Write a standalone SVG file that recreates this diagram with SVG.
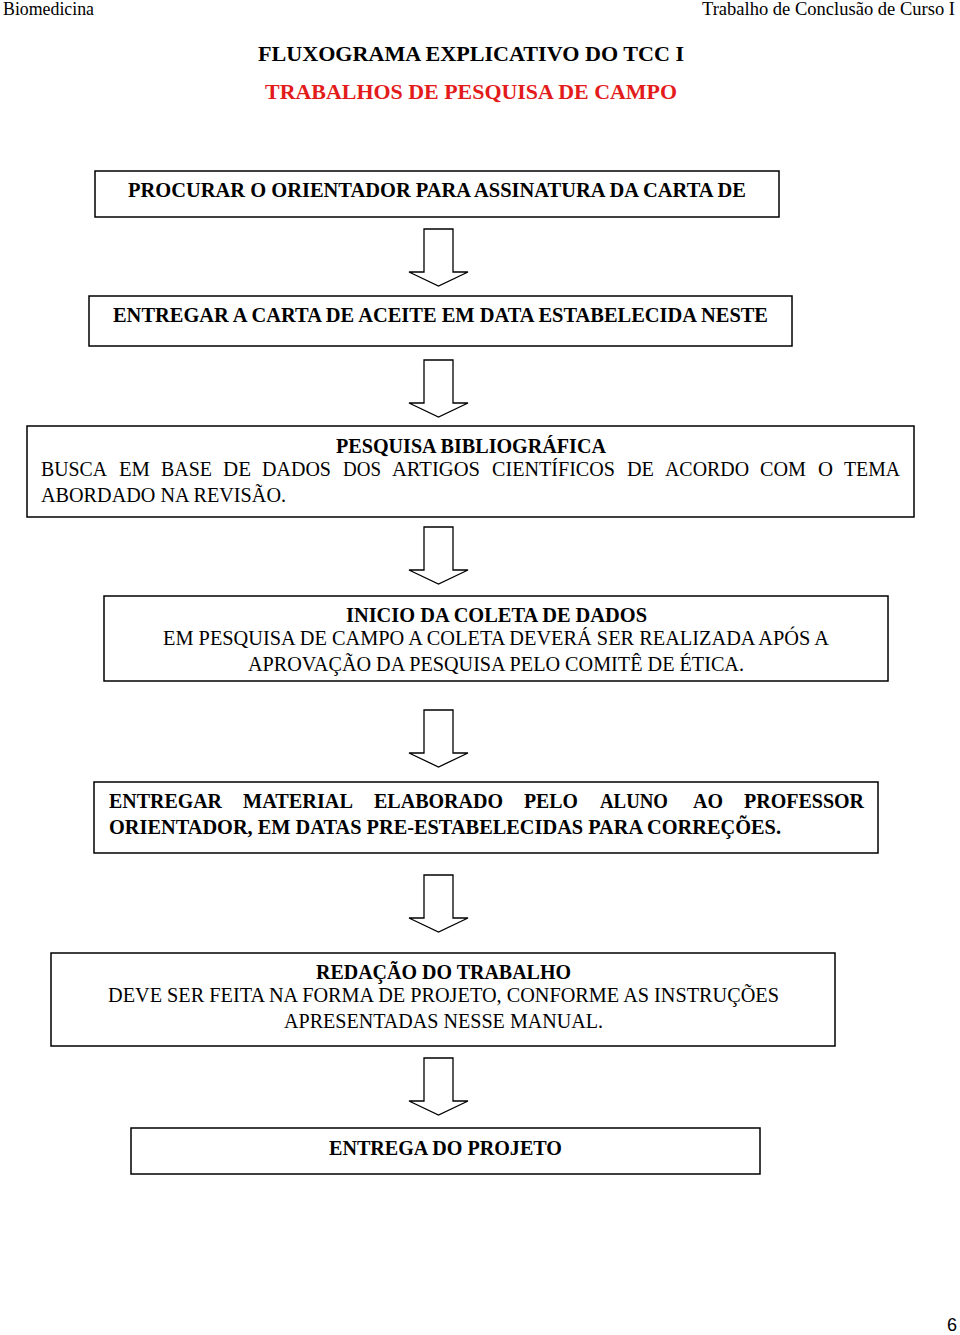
<svg xmlns="http://www.w3.org/2000/svg" width="960" height="1335" viewBox="0 0 960 1335">
<style>
.box{fill:#fff;stroke:#000;stroke-width:1.5}
.arrow{fill:#fff;stroke:#000;stroke-width:1.3;stroke-linejoin:miter}
text{font-family:"Liberation Serif","Times New Roman",serif;fill:#000}
.b{font-weight:bold;font-size:20px}
.n{font-size:20px}
.hdr{font-size:18px}
</style>
<rect width="960" height="1335" fill="#fff"/>
<g id="header">
<text class="hdr" x="3" y="15" textLength="91" lengthAdjust="spacingAndGlyphs">Biomedicina</text>
<text class="hdr" x="702" y="15" textLength="253" lengthAdjust="spacingAndGlyphs">Trabalho de Conclusão de Curso I</text>
</g>
<g id="title">
<text class="b" x="258" y="61" textLength="426" lengthAdjust="spacingAndGlyphs" style="font-size:22px">FLUXOGRAMA EXPLICATIVO DO TCC I</text>
<text class="b" x="265" y="99" textLength="412" lengthAdjust="spacingAndGlyphs" style="font-size:22px;fill:#e31b1b">TRABALHOS DE PESQUISA DE CAMPO</text>
</g>
<g id="connectors">
<path class="arrow" d="M424,229 H453 V272 H468 L438.5,286 L409,272 H424 Z"/>
<path class="arrow" d="M424,360 H453 V403 H468 L438.5,417 L409,403 H424 Z"/>
<path class="arrow" d="M424,527 H453 V570 H468 L438.5,584 L409,570 H424 Z"/>
<path class="arrow" d="M424,710 H453 V753 H468 L438.5,767 L409,753 H424 Z"/>
<path class="arrow" d="M424,875 H453 V918 H468 L438.5,932 L409,918 H424 Z"/>
<path class="arrow" d="M424,1058 H453 V1101 H468 L438.5,1115 L409,1101 H424 Z"/>
</g>
<g id="node1">
<rect class="box" x="95" y="171" width="684" height="46"/>
<text class="b" x="128" y="197" textLength="618" lengthAdjust="spacingAndGlyphs">PROCURAR O ORIENTADOR PARA ASSINATURA DA CARTA DE</text>
</g>
<g id="node2">
<rect class="box" x="89" y="296" width="703" height="50"/>
<text class="b" x="113" y="322" textLength="655" lengthAdjust="spacingAndGlyphs">ENTREGAR A CARTA DE ACEITE EM DATA ESTABELECIDA NESTE</text>
</g>
<g id="node3">
<rect class="box" x="27" y="426" width="887" height="91"/>
<text class="b" x="336" y="453" textLength="270" lengthAdjust="spacingAndGlyphs">PESQUISA BIBLIOGRÁFICA</text>
<text class="n" x="41" y="476" textLength="66" lengthAdjust="spacingAndGlyphs">BUSCA</text>
<text class="n" x="119" y="476" textLength="31" lengthAdjust="spacingAndGlyphs">EM</text>
<text class="n" x="161" y="476" textLength="51" lengthAdjust="spacingAndGlyphs">BASE</text>
<text class="n" x="223" y="476" textLength="28" lengthAdjust="spacingAndGlyphs">DE</text>
<text class="n" x="262" y="476" textLength="69" lengthAdjust="spacingAndGlyphs">DADOS</text>
<text class="n" x="343" y="476" textLength="38" lengthAdjust="spacingAndGlyphs">DOS</text>
<text class="n" x="392" y="476" textLength="88" lengthAdjust="spacingAndGlyphs">ARTIGOS</text>
<text class="n" x="492" y="476" textLength="123" lengthAdjust="spacingAndGlyphs">CIENTÍFICOS</text>
<text class="n" x="627" y="476" textLength="27" lengthAdjust="spacingAndGlyphs">DE</text>
<text class="n" x="665" y="476" textLength="84" lengthAdjust="spacingAndGlyphs">ACORDO</text>
<text class="n" x="760" y="476" textLength="46" lengthAdjust="spacingAndGlyphs">COM</text>
<text class="n" x="818" y="476" textLength="15" lengthAdjust="spacingAndGlyphs">O</text>
<text class="n" x="844" y="476" textLength="56" lengthAdjust="spacingAndGlyphs">TEMA</text>
<text class="n" x="41" y="502" textLength="245" lengthAdjust="spacingAndGlyphs">ABORDADO NA REVISÃO.</text>
</g>
<g id="node4">
<rect class="box" x="104" y="596" width="784" height="85"/>
<text class="b" x="346" y="622" textLength="301" lengthAdjust="spacingAndGlyphs">INICIO DA COLETA DE DADOS</text>
<text class="n" x="163" y="645" textLength="666" lengthAdjust="spacingAndGlyphs">EM PESQUISA DE CAMPO A COLETA DEVERÁ SER REALIZADA APÓS A</text>
<text class="n" x="248" y="671" textLength="496" lengthAdjust="spacingAndGlyphs">APROVAÇÃO DA PESQUISA PELO COMITÊ DE ÉTICA.</text>
</g>
<g id="node5">
<rect class="box" x="94" y="782" width="784" height="71"/>
<text class="b" x="109" y="808" textLength="113" lengthAdjust="spacingAndGlyphs">ENTREGAR</text>
<text class="b" x="243" y="808" textLength="110" lengthAdjust="spacingAndGlyphs">MATERIAL</text>
<text class="b" x="374" y="808" textLength="129" lengthAdjust="spacingAndGlyphs">ELABORADO</text>
<text class="b" x="524" y="808" textLength="54" lengthAdjust="spacingAndGlyphs">PELO</text>
<text class="b" x="600" y="808" textLength="68" lengthAdjust="spacingAndGlyphs">ALUNO</text>
<text class="b" x="693" y="808" textLength="30" lengthAdjust="spacingAndGlyphs">AO</text>
<text class="b" x="744" y="808" textLength="120" lengthAdjust="spacingAndGlyphs">PROFESSOR</text>
<text class="b" x="109" y="834" textLength="672" lengthAdjust="spacingAndGlyphs">ORIENTADOR, EM DATAS PRE-ESTABELECIDAS PARA CORREÇÕES.</text>
</g>
<g id="node6">
<rect class="box" x="51" y="953" width="784" height="93"/>
<text class="b" x="316" y="979" textLength="255" lengthAdjust="spacingAndGlyphs">REDAÇÃO DO TRABALHO</text>
<text class="n" x="108" y="1002" textLength="671" lengthAdjust="spacingAndGlyphs">DEVE SER FEITA NA FORMA DE PROJETO, CONFORME AS INSTRUÇÕES</text>
<text class="n" x="284" y="1028" textLength="319" lengthAdjust="spacingAndGlyphs">APRESENTADAS NESSE MANUAL.</text>
</g>
<g id="node7">
<rect class="box" x="131" y="1128" width="629" height="46"/>
<text class="b" x="329" y="1155" textLength="233" lengthAdjust="spacingAndGlyphs">ENTREGA DO PROJETO</text>
</g>
<g id="page">
<text x="947" y="1331" style="font-family:'Liberation Sans','Open Sans',sans-serif;font-size:18px">6</text>
</g>
</svg>
